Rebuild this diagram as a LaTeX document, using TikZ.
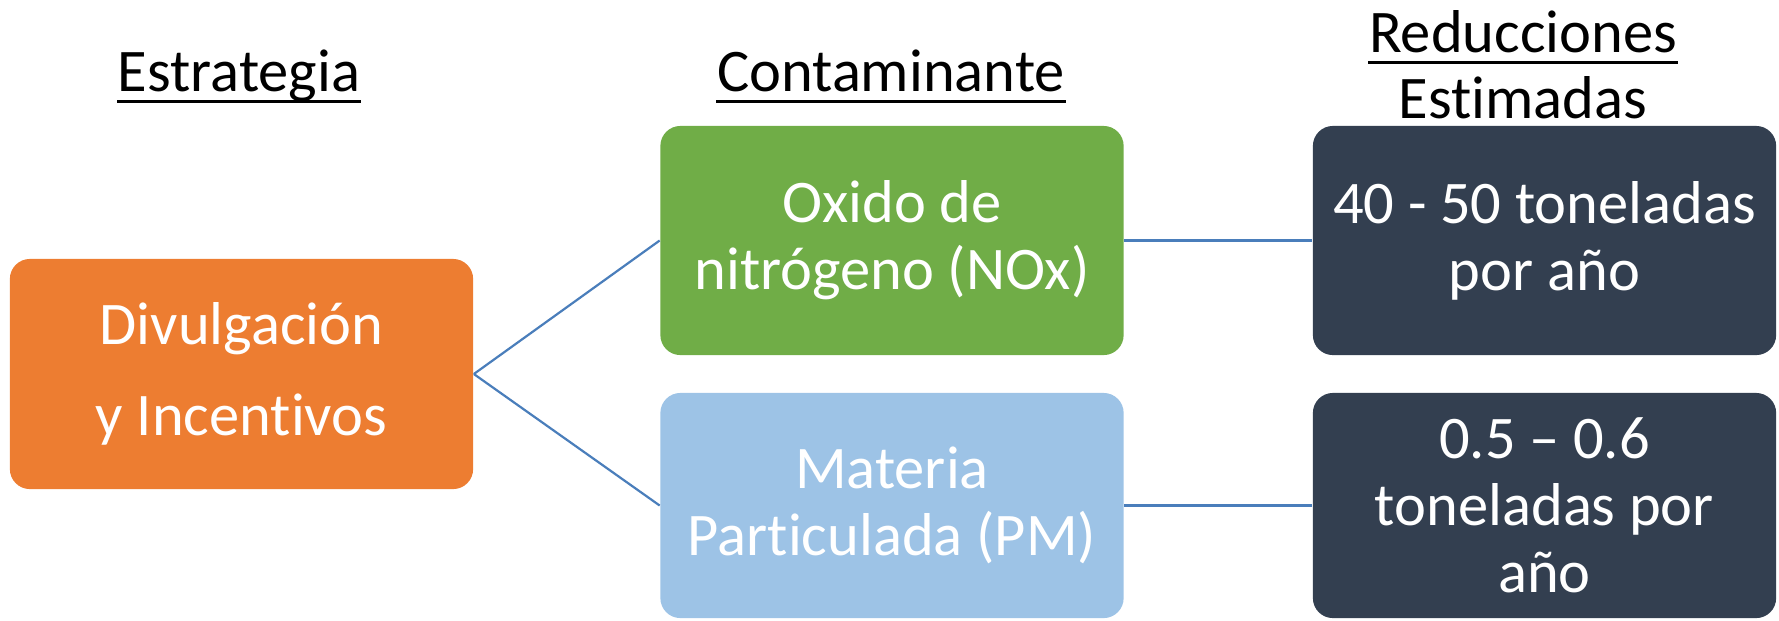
\documentclass[tikz,border=0pt]{standalone}
\usepackage{fontspec}
\setmainfont{Carlito}[Ligatures=NoCommon]
\definecolor{orangeC}{HTML}{ED7D31}
\definecolor{greenC}{HTML}{70AD47}
\definecolor{blueC}{HTML}{9DC3E6}
\definecolor{darkC}{HTML}{333F50}
\definecolor{lineC}{HTML}{4A7EBB}
\begin{document}
\begin{tikzpicture}[x=0.01cm,y=-0.01cm,
  box/.style={rounded corners=0.2cm, draw=none, inner sep=0pt, text=white,
    font=\fontsize{17.2}{19}\selectfont, align=center, minimum width=4.63cm},
  wide/.style={font=\fontsize{17.2}{26}\selectfont},
  head/.style={inner sep=0pt, anchor=base, font=\fontsize{17.2}{19}\selectfont},
  uline/.style={line width=0.03cm},
  conn/.style={draw=lineC, line width=0.022cm}
]
\useasboundingbox (0,0) rectangle (1779,620);
% headings
\node[head] (h1) at (239,91) {Estrategia};
\node[head] (h2) at (891,91) {Contaminante};
\node[head] (h3) at (1523,52) {Reducciones};
\node[head] (h4) at (1523,118) {Estimadas};
\draw[uline] ([yshift=-0.1cm]h1.base west) -- ([yshift=-0.1cm]h1.base east);
\draw[uline] ([yshift=-0.1cm]h2.base west) -- ([yshift=-0.1cm]h2.base east);
\draw[uline] ([yshift=-0.1cm]h3.base west) -- ([yshift=-0.1cm]h3.base east);
% boxes
\node[box, wide, fill=orangeC, minimum height=2.30cm] (s) at (241.5,374) {Divulgación\\y Incentivos};
\node[box, fill=greenC, minimum height=2.29cm] (c1) at (892,240.5) {Oxido de\\nitrógeno (NOx)};
\node[box, fill=blueC, minimum height=2.25cm] (c2) at (892,505.5) {Materia\\Particulada (PM)};
\node[box, fill=darkC, minimum height=2.29cm] (r1) at (1544.5,240.5) {40 - 50 toneladas\\por año};
\node[box, fill=darkC, minimum height=2.25cm] (r2) at (1544.5,505.5) {0.5 – 0.6\\toneladas por\\año};
% connectors
\draw[conn] (s.east) -- (c1.west);
\draw[conn] (s.east) -- (c2.west);
\draw[conn] (c1.east) -- (r1.west);
\draw[conn] (c2.east) -- (r2.west);
\end{tikzpicture}
\end{document}
